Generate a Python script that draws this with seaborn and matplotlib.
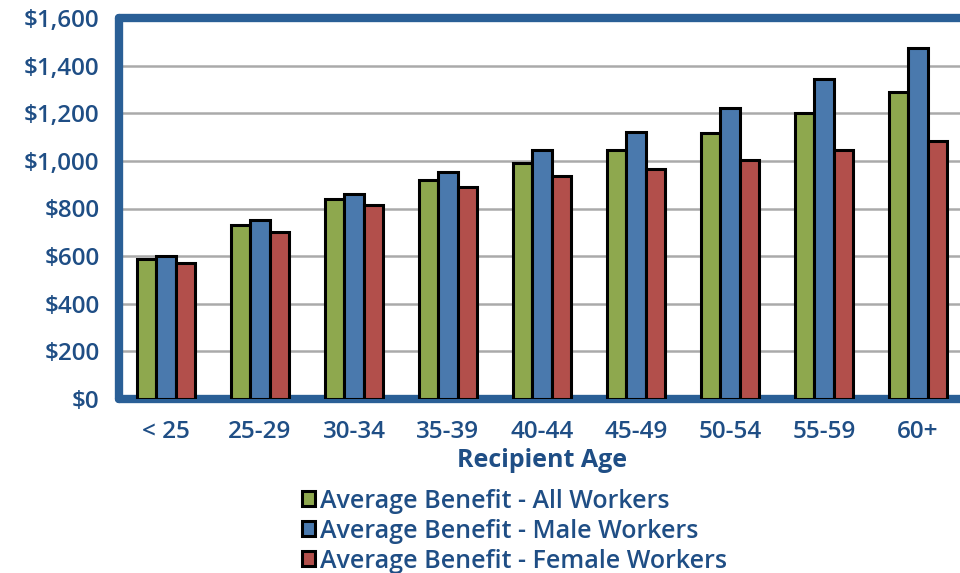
import matplotlib
matplotlib.use("Agg")
import matplotlib.pyplot as plt
import seaborn as sns
import pandas as pd

# Average monthly benefit by recipient age
age_groups = ["< 25", "25-29", "30-34", "35-39", "40-44", "45-49", "50-54", "55-59", "60+"]
all_workers = [590, 730, 840, 920, 990, 1045, 1115, 1200, 1290]
male_workers = [600, 750, 860, 955, 1045, 1120, 1220, 1345, 1475]
female_workers = [570, 700, 815, 890, 935, 965, 1005, 1045, 1085]
series_names = [
    "Average Benefit - All Workers",
    "Average Benefit - Male Workers",
    "Average Benefit - Female Workers",
]
y_ticks = [0, 200, 400, 600, 800, 1000, 1200, 1400, 1600]

df = pd.DataFrame({
    "age": age_groups * 3,
    "benefit": all_workers + male_workers + female_workers,
    "series": [s for s in series_names for _ in age_groups],
})

NAVY = "#1f4e85"
FRAME = "#2a5f96"
palette = ["#8ea84e", "#4a79ad", "#b24f4b"]

sns.set_theme(style="white")
plt.rcParams["font.family"] = ["Open Sans", "DejaVu Sans"]

fig = plt.figure(figsize=(9.6, 5.73), dpi=100)
W, H = 960, 573
left, right, top, bottom = 119, 965, 18, 399
ax = fig.add_axes([left / W, 1 - bottom / H, (right - left) / W, (bottom - top) / H])

sns.barplot(data=df, x="age", y="benefit", hue="series", palette=palette,
            width=0.62, edgecolor="black", linewidth=2.2, saturation=1,
            errorbar=None, ax=ax, zorder=3, legend=True)

ax.set_ylim(0, 1600)
ax.set_xlim(-0.5, 8.5)
ax.set_yticks(y_ticks)
ax.set_yticklabels([f"${v:,}" for v in y_ticks])
ax.yaxis.grid(True, color="#aaaaaa", linewidth=1.8, zorder=0)
ax.set_axisbelow(True)

for side in ("left", "top", "bottom"):
    ax.spines[side].set_color(FRAME)
    ax.spines[side].set_linewidth(6)
    ax.spines[side].set_capstyle("round")
ax.spines["right"].set_visible(False)

ax.tick_params(axis="both", length=0, labelsize=17.5, labelcolor=NAVY)
ax.tick_params(axis="y", pad=14)
ax.tick_params(axis="x", pad=15)
for lab in ax.get_xticklabels() + ax.get_yticklabels():
    lab.set_fontweight("semibold")

ax.set_ylabel("")
ax.set_xlabel("Recipient Age", fontsize=18, fontweight="bold", color=NAVY, labelpad=3)

handles, labels = ax.get_legend_handles_labels()
ax.get_legend().remove()
leg = fig.legend(handles, labels, loc="upper left",
                 bbox_to_anchor=(289 / W, 1 - 476 / H), frameon=False,
                 fontsize=18, handlelength=0.55, handleheight=0.55,
                 handletextpad=0.2, labelspacing=0.2, borderpad=0)
for t in leg.get_texts():
    t.set_color(NAVY)
    t.set_fontweight("semibold")

fig.savefig("out.png", dpi=100)
